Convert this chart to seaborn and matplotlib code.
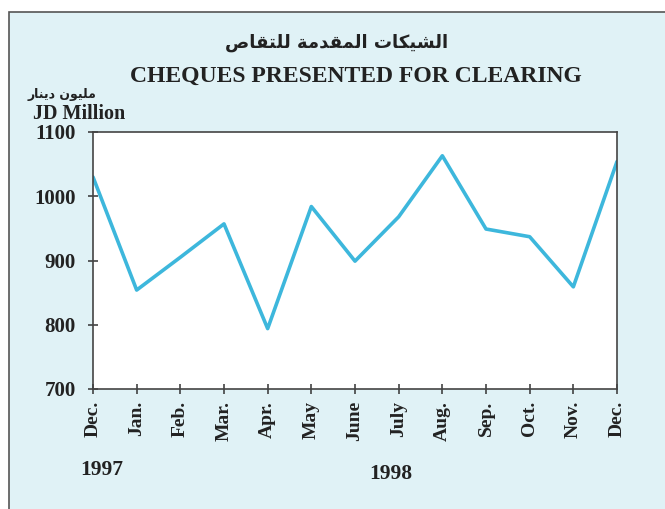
import numpy as np
import pandas as pd
import seaborn as sns
import matplotlib.pyplot as plt
from matplotlib.patches import Rectangle

months = ["Dec.", "Jan.", "Feb.", "Mar.", "Apr.", "May", "June",
          "July", "Aug.", "Sep.", "Oct.", "Nov.", "Dec."]
cheques = [1030, 854, 905, 957, 794, 984, 899, 968, 1063, 949, 937, 859, 1054]
yticks = [700, 800, 900, 1000, 1100]

title_ar = "الشيكات المقدمة للتقاص"
unit_ar = "مليون دينار"

# matplotlib has no Arabic shaping: pick presentation forms and reverse by hand
FORMS = {  # isolated, final, initial, medial
    "ا": "\ufe8d\ufe8e", "د": "\ufea9\ufeaa", "ر": "\ufead\ufeae",
    "و": "\ufeed\ufeee", "ة": "\ufe93\ufe94",
    "ل": "\ufedd\ufede\ufedf\ufee0", "ش": "\ufeb5\ufeb6\ufeb7\ufeb8",
    "ي": "\ufef1\ufef2\ufef3\ufef4", "ك": "\ufed9\ufeda\ufedb\ufedc",
    "ت": "\ufe95\ufe96\ufe97\ufe98", "م": "\ufee1\ufee2\ufee3\ufee4",
    "ق": "\ufed5\ufed6\ufed7\ufed8", "ص": "\ufeb9\ufeba\ufebb\ufebc",
    "ن": "\ufee5\ufee6\ufee7\ufee8",
}


def shape(text):
    out = []
    for i, ch in enumerate(text):
        if ch not in FORMS:
            out.append(ch)
            continue
        prev = text[i - 1] if i > 0 else " "
        nxt = text[i + 1] if i + 1 < len(text) else " "
        joins_prev = prev in FORMS and len(FORMS[prev]) == 4
        joins_next = nxt in FORMS and len(FORMS[ch]) == 4
        f = FORMS[ch]
        if joins_prev and joins_next:
            out.append(f[3])
        elif joins_prev:
            out.append(f[1])
        elif joins_next:
            out.append(f[2])
        else:
            out.append(f[0])
    return "".join(reversed(out))


sns.set_style("ticks")
serif = ["Liberation Serif", "DejaVu Serif"]
plt.rcParams["font.family"] = serif

df = pd.DataFrame({"idx": np.arange(len(months)), "value": cheques})

W, H = 665, 509
fig = plt.figure(figsize=(W / 100, H / 100), dpi=100, facecolor="white")
fig.patches.append(Rectangle((9 / W, -0.01), 1.0, 1 - 12 / H + 0.01,
                             transform=fig.transFigure, facecolor="#e0f2f6",
                             edgecolor="#555555", linewidth=1.2, zorder=-10))

ax = fig.add_axes([93 / W, 1 - 389 / H, 524 / W, 257 / H])
ax.set_facecolor("white")
sns.lineplot(data=df, x="idx", y="value", ax=ax, color="#3db7dc", linewidth=2.6)

ax.set_xlim(0, 12)
ax.set_ylim(700, 1100)
ax.set_xticks(df["idx"])
ax.set_xticklabels(months, rotation=90, fontsize=14, fontweight="bold")
ax.set_yticks(yticks)
ax.set_yticklabels([str(v) for v in yticks], fontsize=15, fontweight="bold")
ax.set_xlabel("")
ax.set_ylabel("")
ax.tick_params(direction="inout", length=7, width=1.1, colors="#333333",
               labelcolor="#222222")
ax.tick_params(axis="x", pad=5)
ax.tick_params(axis="y", pad=9)
for s in ax.spines.values():
    s.set_visible(True)
    s.set_color("#444444")
    s.set_linewidth(1.2)

fig.text(337 / W, 1 - 43 / H, shape(title_ar), ha="center", va="center",
         fontsize=13, fontweight="bold", family=["DejaVu Sans"], color="#222222")
fig.text(356 / W, 1 - 76 / H, "CHEQUES PRESENTED FOR CLEARING", ha="center",
         va="center", fontsize=17, fontweight="bold", color="#222222")
fig.text(62 / W, 1 - 95 / H, shape(unit_ar), ha="center", va="center",
         fontsize=9, fontweight="bold", family=["DejaVu Sans"], color="#222222")
fig.text(33 / W, 1 - 114 / H, "JD Million", ha="left", va="center",
         fontsize=14.5, fontweight="bold", color="#222222")
fig.text(102 / W, 1 - 470 / H, "1997", ha="center", va="center",
         fontsize=15.5, fontweight="bold", color="#222222")
fig.text(391 / W, 1 - 474 / H, "1998", ha="center", va="center",
         fontsize=15.5, fontweight="bold", color="#222222")

fig.savefig("out.png", dpi=100, facecolor=fig.get_facecolor())
